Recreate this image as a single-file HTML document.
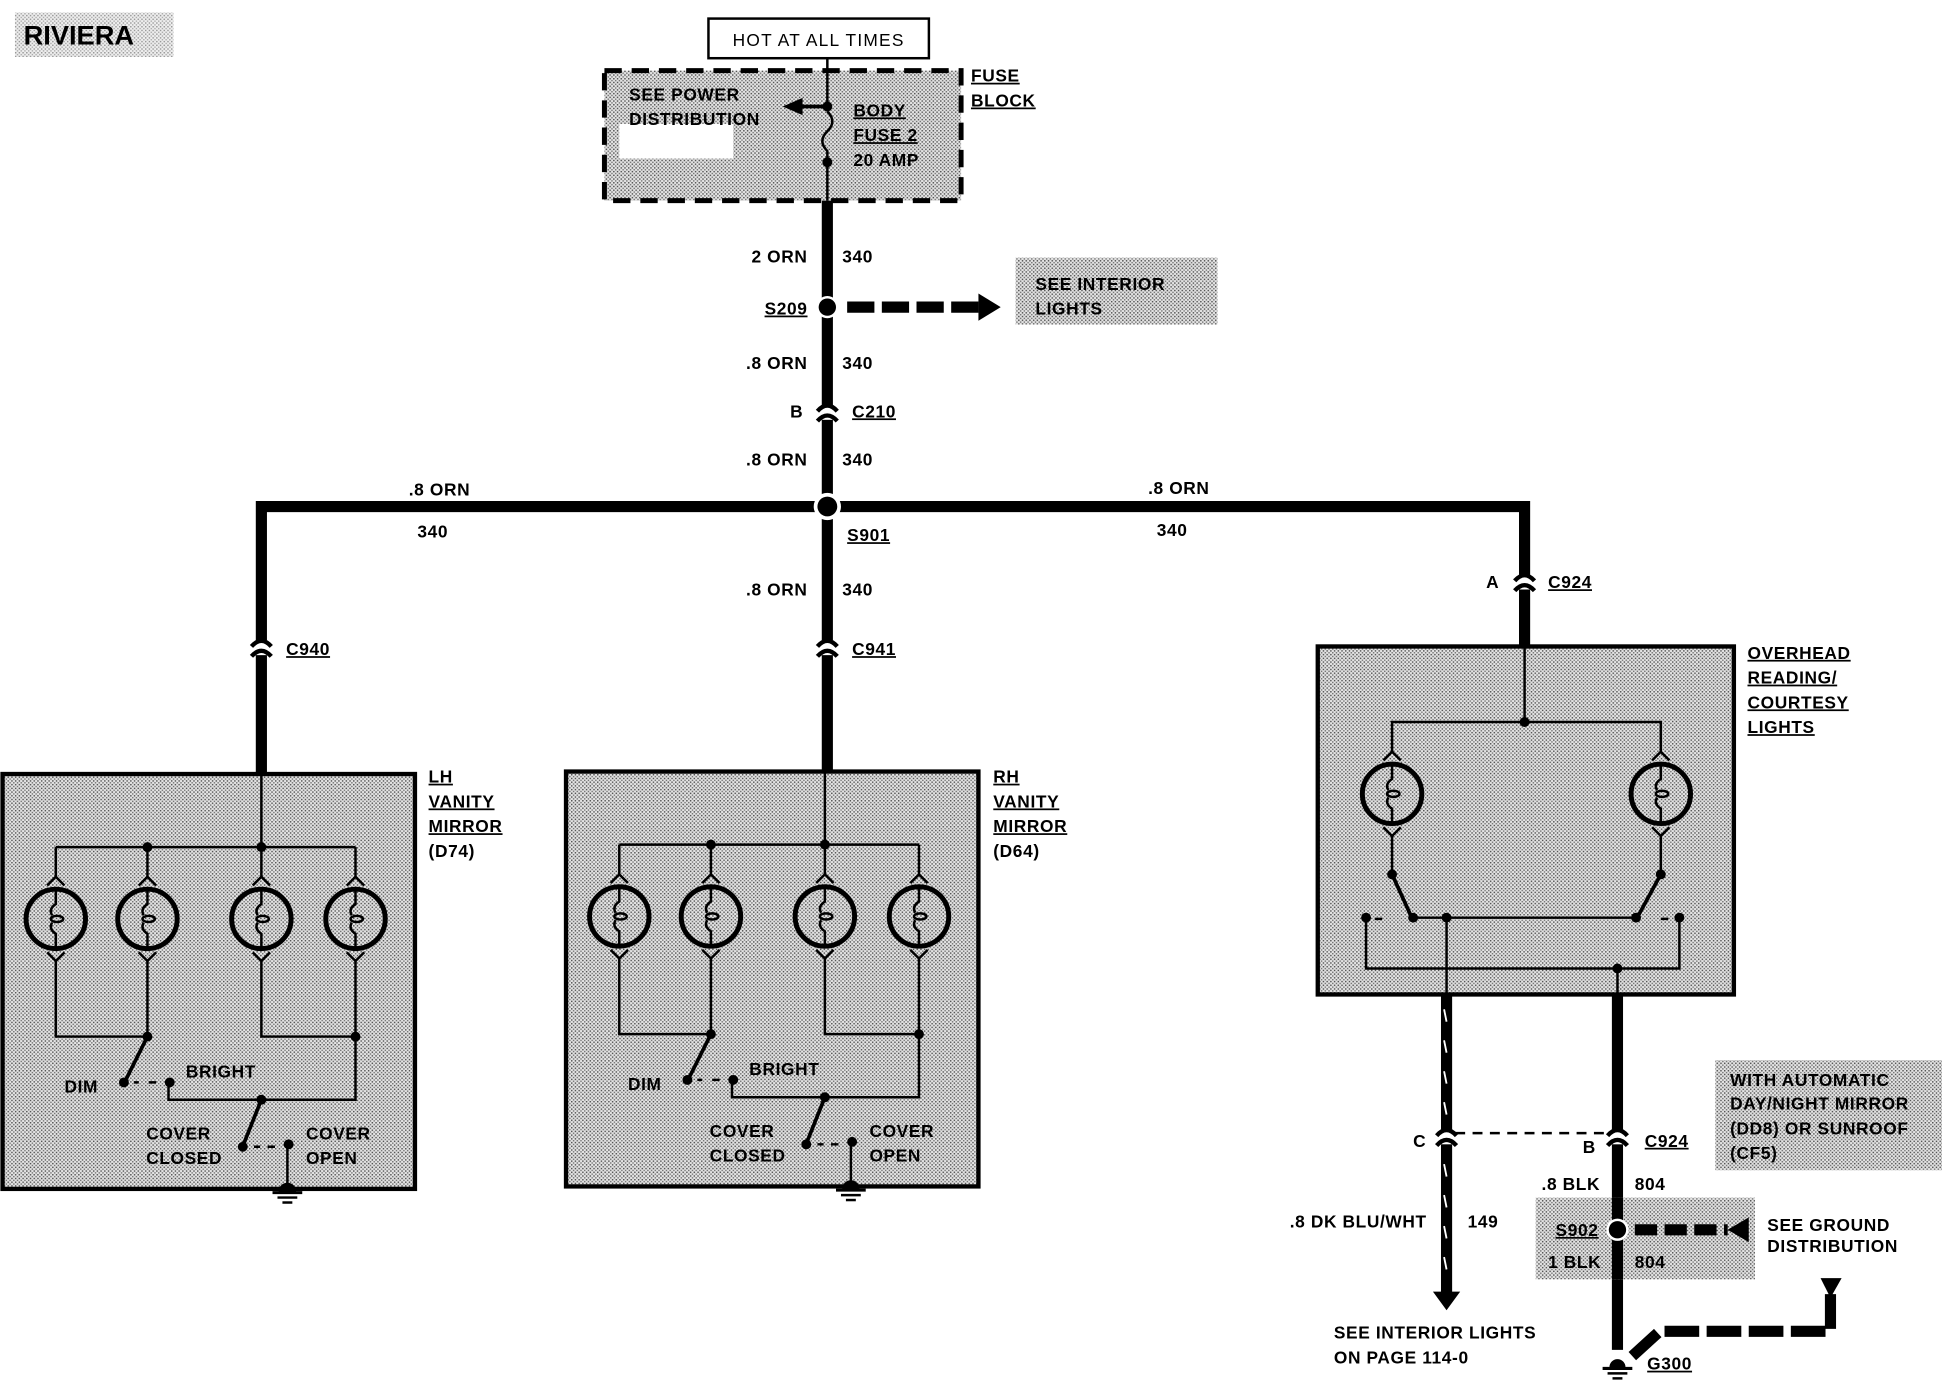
<!DOCTYPE html>
<html><head><meta charset="utf-8"><style>
html,body{margin:0;padding:0;background:#fff;}
svg{display:block;}
text{font-family:"Liberation Sans",Arial,sans-serif;font-size:14px;font-weight:bold;letter-spacing:0.5px;fill:#000;}
.u{text-decoration:underline;}
</style></head><body>
<svg width="1942" height="1392" viewBox="0 0 1568 1124" xmlns="http://www.w3.org/2000/svg">
<defs>
<pattern id="dots" width="3" height="3" patternUnits="userSpaceOnUse">
<rect width="3" height="3" fill="#e4e4e4"/><rect width="1.2" height="1.2" fill="#555"/><rect x="1.5" y="1.5" width="1.2" height="1.2" fill="#777"/>
</pattern>
<g id="lamp" fill="none" stroke="#000">
<circle cx="0" cy="0" r="24" stroke-width="4"/>
<path d="M-7 -27 L0 -34 L7 -27 M-7 27 L0 34 L7 27" stroke-width="2"/>
<path d="M0 -24 L0 -12 Q-6 -8 -3 -3 M0 24 L0 12 Q-6 8 -3 3" stroke-width="2"/>
<ellipse cx="1" cy="0" rx="5" ry="2.5" stroke-width="2"/>
</g>
<g id="conn">
<rect x="-7" y="-6" width="14" height="12" fill="#fff"/>
<path d="M-8 -1 Q0 -10 8 -1 M-8 7 Q0 -2 8 7" fill="none" stroke="#000" stroke-width="3.5"/>
</g>
<g id="gnd" stroke="#000" fill="#000">
<path d="M-6 0 A6 6 0 0 1 6 0 Z"/>
<line x1="-12" y1="1" x2="12" y2="1" stroke-width="2.5"/>
<line x1="-8" y1="5" x2="8" y2="5" stroke-width="2"/>
<line x1="-4" y1="9" x2="4" y2="9" stroke-width="2"/>
</g>
<g id="mirror" stroke="#000" fill="none" stroke-width="2">
<rect x="2" y="625" width="333" height="335" fill="url(#dots)" stroke-width="3.5"/>
<line x1="211" y1="625" x2="211" y2="684"/>
<line x1="45" y1="684" x2="287" y2="684"/>
<line x1="45" y1="684" x2="45" y2="708"/><line x1="119" y1="684" x2="119" y2="708"/>
<line x1="211" y1="684" x2="211" y2="708"/><line x1="287" y1="684" x2="287" y2="708"/>
<use href="#lamp" x="45" y="742"/><use href="#lamp" x="119" y="742"/>
<use href="#lamp" x="211" y="742"/><use href="#lamp" x="287" y="742"/>
<path d="M45 776 V837 H119 V776 M211 776 V837 H287 V776"/>
<path d="M119 837 L102 871" stroke-width="3"/>
<path d="M108 874 H112 M120 874 H126" stroke-width="2"/>
<path d="M136 874 V888 H287 V837"/>
<path d="M211 888 L197 923" stroke-width="3"/>
<path d="M205 926 H210 M216 926 H222"/>
<path d="M232 924 V960"/>
<g fill="#000" stroke="none">
<circle cx="119" cy="684" r="4"/><circle cx="211" cy="684" r="4"/>
<circle cx="119" cy="837" r="4"/><circle cx="287" cy="837" r="4"/>
<circle cx="100" cy="874" r="4"/><circle cx="137" cy="874" r="4"/>
<circle cx="211" cy="888" r="4"/><circle cx="196" cy="926" r="4"/><circle cx="233" cy="924" r="4"/>
</g>
<use href="#gnd" x="232" y="962"/>
<g stroke="none"><text x="52" y="882">DIM</text><text x="150" y="870">BRIGHT</text>
<text x="118" y="920">COVER</text><text x="118" y="940">CLOSED</text>
<text x="247" y="920">COVER</text><text x="247" y="940">OPEN</text></g>
</g>
</defs>

<rect x="12" y="10" width="128" height="36" fill="url(#dots)" opacity="0.6"/>
<text x="19" y="36" style="font-size:22px;letter-spacing:0">RIVIERA</text>

<rect x="572" y="15" width="178" height="32" fill="#fff" stroke="#000" stroke-width="2"/>
<text x="661" y="37" text-anchor="middle" style="font-weight:normal;letter-spacing:1px">HOT AT ALL TIMES</text>

<rect x="488" y="57" width="288" height="105" fill="url(#dots)" stroke="#000" stroke-width="4" stroke-dasharray="14 8"/>
<rect x="500" y="100" width="92" height="28" fill="#fff"/>
<text x="508" y="81">SEE POWER</text><text x="508" y="101">DISTRIBUTION</text>
<line x1="668" y1="47" x2="668" y2="162" stroke="#000" stroke-width="2"/>
<rect x="664" y="90" width="8" height="38" fill="url(#dots)"/>
<path d="M668 90 Q676 98 668 106 Q660 114 668 122 L668 130" fill="none" stroke="#000" stroke-width="2"/>
<line x1="668" y1="86" x2="645" y2="86" stroke="#000" stroke-width="3"/>
<path d="M632 86 L648 79 L648 93 Z"/>
<circle cx="668" cy="86" r="4"/><circle cx="668" cy="131" r="4"/>
<text x="689" y="94" class="u">BODY</text><text x="689" y="114" class="u">FUSE 2</text><text x="689" y="134">20 AMP</text>
<text x="784" y="66" class="u">FUSE</text><text x="784" y="86" class="u">BLOCK</text>

<g stroke="#000" stroke-width="9" fill="none">
<line x1="668" y1="162" x2="668" y2="625"/>
<path d="M211 625 V409 H1231 V522"/>
</g>
<text x="652" y="212" text-anchor="end">2 ORN</text><text x="680" y="212">340</text>
<circle cx="668" cy="248" r="9" fill="#fff"/><circle cx="668" cy="248" r="7"/>
<text x="652" y="254" text-anchor="end" class="u">S209</text>
<line x1="684" y1="248" x2="790" y2="248" stroke="#000" stroke-width="9" stroke-dasharray="22 6"/>
<path d="M790 237 L808 248 L790 259 Z"/>
<rect x="820" y="208" width="163" height="54" fill="url(#dots)"/>
<text x="836" y="234">SEE INTERIOR</text><text x="836" y="254">LIGHTS</text>
<text x="652" y="298" text-anchor="end">.8 ORN</text><text x="680" y="298">340</text>
<use href="#conn" x="668" y="333"/>
<text x="638" y="337">B</text><text x="688" y="337" class="u">C210</text>
<text x="652" y="376" text-anchor="end">.8 ORN</text><text x="680" y="376">340</text>
<circle cx="668" cy="409" r="11" fill="#fff"/><circle cx="668" cy="409" r="8"/>
<text x="684" y="437" class="u">S901</text>
<text x="330" y="400">.8 ORN</text><text x="337" y="434">340</text>
<text x="927" y="399">.8 ORN</text><text x="934" y="433">340</text>
<text x="652" y="481" text-anchor="end">.8 ORN</text><text x="680" y="481">340</text>
<use href="#conn" x="211" y="523"/><text x="231" y="529" class="u">C940</text>
<use href="#conn" x="668" y="523"/><text x="688" y="529" class="u">C941</text>
<use href="#conn" x="1231" y="470"/><text x="1200" y="475">A</text><text x="1250" y="475" class="u">C924</text>

<use href="#mirror"/>
<use href="#mirror" x="455" y="-2"/>
<text x="346" y="632" class="u">LH</text><text x="346" y="652" class="u">VANITY</text><text x="346" y="672" class="u">MIRROR</text><text x="346" y="692">(D74)</text>
<text x="802" y="632" class="u">RH</text><text x="802" y="652" class="u">VANITY</text><text x="802" y="672" class="u">MIRROR</text><text x="802" y="692">(D64)</text>

<g stroke="#000" fill="none" stroke-width="2">
<rect x="1064" y="522" width="336" height="281" fill="url(#dots)" stroke-width="3.5"/>
<line x1="1231" y1="522" x2="1231" y2="583"/>
<path d="M1124 607 V583 H1341 V607"/>
<use href="#lamp" x="1124" y="641"/><use href="#lamp" x="1341" y="641"/>
<path d="M1124 675 V706 M1341 675 V706"/>
<path d="M1124 706 L1139 739 M1341 706 L1323 739" stroke-width="3"/>
<path d="M1110 742 H1116 M1347 742 H1341" />
<path d="M1141 741 H1321"/>
<path d="M1103 741 V782 H1356 V741"/>
<path d="M1168 741 V803"/>
</g>
<g>
<circle cx="1231" cy="583" r="4"/><circle cx="1124" cy="706" r="4"/><circle cx="1341" cy="706" r="4"/>
<circle cx="1103" cy="741" r="4"/><circle cx="1141" cy="741" r="4"/><circle cx="1168" cy="741" r="4"/>
<circle cx="1321" cy="741" r="4"/><circle cx="1356" cy="741" r="4"/><circle cx="1306" cy="782" r="4"/>
</g>
<line x1="1306" y1="782" x2="1306" y2="803" stroke="#000" stroke-width="2"/>
<text x="1411" y="532" class="u">OVERHEAD</text><text x="1411" y="552" class="u">READING/</text><text x="1411" y="572" class="u">COURTESY</text><text x="1411" y="592" class="u">LIGHTS</text>

<g stroke="#000" stroke-width="9" fill="none">
<line x1="1168" y1="803" x2="1168" y2="1045"/>
<line x1="1306" y1="803" x2="1306" y2="1090"/>
</g>
<g stroke="#fff" stroke-width="1.5">
<line x1="1166" y1="815" x2="1168" y2="825"/><line x1="1166" y1="840" x2="1168" y2="850"/><line x1="1166" y1="865" x2="1168" y2="875"/><line x1="1166" y1="890" x2="1168" y2="900"/><line x1="1166" y1="940" x2="1168" y2="950"/><line x1="1166" y1="965" x2="1168" y2="975"/><line x1="1166" y1="990" x2="1168" y2="1000"/><line x1="1166" y1="1015" x2="1168" y2="1025"/>
</g>
<path d="M1157 1043 L1179 1043 L1168 1058 Z"/>
<line x1="1175" y1="915" x2="1298" y2="915" stroke="#000" stroke-width="2" stroke-dasharray="8 6"/>
<use href="#conn" x="1168" y="918"/><use href="#conn" x="1306" y="918"/>
<text x="1141" y="926">C</text><text x="1278" y="931">B</text><text x="1328" y="926" class="u">C924</text>
<rect x="1385" y="856" width="183" height="89" fill="url(#dots)"/>
<text x="1397" y="877">WITH AUTOMATIC</text><text x="1397" y="896">DAY/NIGHT MIRROR</text><text x="1397" y="916">(DD8) OR SUNROOF</text><text x="1397" y="936">(CF5)</text>
<text x="1292" y="961" text-anchor="end">.8 BLK</text><text x="1320" y="961">804</text>
<rect x="1240" y="967" width="177" height="66" fill="url(#dots)"/>
<line x1="1306" y1="967" x2="1306" y2="1033" stroke="#000" stroke-width="9"/>
<circle cx="1306" cy="993" r="9" fill="#fff"/><circle cx="1306" cy="993" r="7"/>
<text x="1256" y="998" class="u">S902</text><text x="1250" y="1024">1 BLK</text><text x="1320" y="1024">804</text>
<line x1="1320" y1="993" x2="1395" y2="993" stroke="#000" stroke-width="9" stroke-dasharray="18 6"/>
<path d="M1395 993 L1412 983 L1412 1003 Z"/>
<text x="1427" y="994">SEE GROUND</text><text x="1427" y="1011">DISTRIBUTION</text>
<path d="M1470 1032 L1487 1032 L1478 1048 Z"/>
<path d="M1478 1045 V1075 H1340 L1318 1095" fill="none" stroke="#000" stroke-width="9" stroke-dasharray="28 6"/>
<use href="#gnd" x="1306" y="1104"/>
<text x="1330" y="1106" class="u">G300</text>
<text x="1152" y="991" text-anchor="end">.8 DK BLU/WHT</text><text x="1185" y="991">149</text>
<text x="1077" y="1081">SEE INTERIOR LIGHTS</text><text x="1077" y="1101">ON PAGE 114-0</text>
</svg>
</body></html>
